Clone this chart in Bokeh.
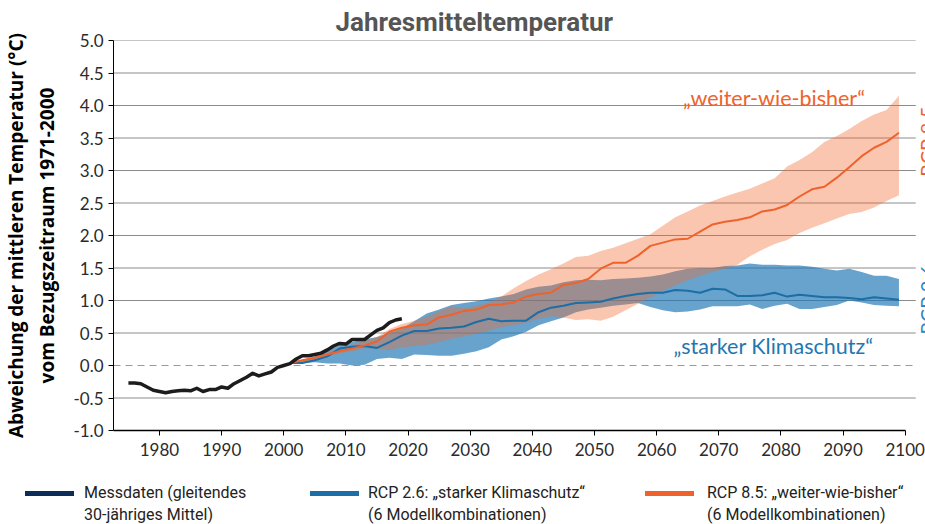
import math
from bokeh.plotting import figure
from bokeh.models import ColumnDataSource, Range1d, FixedTicker, PrintfTickFormatter, Label, Div
from bokeh.layouts import column
from bokeh.embed import file_html
from bokeh.resources import INLINE

TITLE = "Jahresmitteltemperatur"
Y_LABEL = "Abweichung der mittleren Temperatur (°C)\nvom Bezugszeitraum 1971-2000"
X_TICKS = [1980, 1990, 2000, 2010, 2020, 2030, 2040, 2050, 2060, 2070, 2080, 2090, 2100]
Y_TICKS = [-1.0, -0.5, 0.0, 0.5, 1.0, 1.5, 2.0, 2.5, 3.0, 3.5, 4.0, 4.5, 5.0]
GRID_TICKS = [-0.5, 0.5, 1.0, 1.5, 2.0, 2.5, 3.0, 3.5, 4.0, 4.5, 5.0]

# Messdaten (gleitendes 30-jähriges Mittel)
obs_years = list(range(1975, 2020))
obs_vals = [-0.27, -0.27, -0.28, -0.33, -0.38, -0.40, -0.42, -0.40, -0.39, -0.38,
            -0.39, -0.35, -0.40, -0.37, -0.37, -0.33, -0.35, -0.28, -0.23, -0.18,
            -0.12, -0.16, -0.13, -0.10, -0.03, 0.00, 0.03, 0.10, 0.15, 0.15,
            0.17, 0.19, 0.24, 0.30, 0.34, 0.33, 0.40, 0.40, 0.40, 0.47,
            0.54, 0.58, 0.66, 0.70, 0.72]

proj_years = list(range(2001, 2100, 2))

rcp85_mid = [0.04, 0.08, 0.12, 0.17, 0.22, 0.26, 0.31, 0.37, 0.52, 0.58,
             0.62, 0.63, 0.74, 0.78, 0.84, 0.86, 0.93, 0.94, 0.97, 1.06,
             1.10, 1.12, 1.24, 1.27, 1.33, 1.49, 1.58, 1.58, 1.69, 1.84,
             1.89, 1.94, 1.95, 2.06, 2.17, 2.21, 2.24, 2.28, 2.37, 2.40,
             2.47, 2.60, 2.71, 2.75, 2.89, 3.05, 3.22, 3.35, 3.44, 3.58]
rcp85_hi = [0.05, 0.09, 0.14, 0.20, 0.27, 0.32, 0.38, 0.44, 0.56, 0.64,
            0.69, 0.75, 0.84, 0.91, 0.88, 0.92, 0.97, 1.06, 1.19, 1.30,
            1.40, 1.48, 1.57, 1.67, 1.69, 1.76, 1.81, 1.88, 1.95, 2.02,
            2.15, 2.28, 2.37, 2.46, 2.53, 2.60, 2.66, 2.72, 2.80, 2.88,
            3.06, 3.16, 3.28, 3.44, 3.53, 3.64, 3.76, 3.86, 3.93, 4.15]
rcp85_lo = [0.02, 0.05, 0.09, 0.14, 0.19, 0.22, 0.27, 0.26, 0.24, 0.28,
            0.30, 0.32, 0.36, 0.41, 0.45, 0.49, 0.54, 0.59, 0.62, 0.66,
            0.72, 0.76, 0.74, 0.70, 0.71, 0.69, 0.75, 0.85, 0.95, 1.05,
            1.15, 1.23, 1.31, 1.38, 1.44, 1.49, 1.55, 1.68, 1.78, 1.87,
            1.93, 2.04, 2.12, 2.19, 2.26, 2.33, 2.36, 2.43, 2.53, 2.62]

rcp26_mid = [0.04, 0.04, 0.08, 0.14, 0.26, 0.29, 0.30, 0.27, 0.36, 0.46,
             0.53, 0.53, 0.57, 0.58, 0.60, 0.67, 0.72, 0.68, 0.69, 0.69,
             0.82, 0.89, 0.92, 0.96, 0.97, 0.98, 1.03, 1.07, 1.10, 1.12,
             1.12, 1.16, 1.15, 1.12, 1.18, 1.17, 1.07, 1.07, 1.08, 1.12,
             1.06, 1.09, 1.07, 1.05, 1.05, 1.04, 1.02, 1.05, 1.03, 1.01]
rcp26_hi = [0.04, 0.08, 0.14, 0.24, 0.31, 0.36, 0.40, 0.44, 0.50, 0.57,
            0.68, 0.80, 0.86, 0.93, 0.96, 0.99, 1.03, 1.06, 1.10, 1.17,
            1.21, 1.23, 1.28, 1.31, 1.32, 1.31, 1.33, 1.34, 1.35, 1.37,
            1.40, 1.45, 1.49, 1.50, 1.50, 1.53, 1.54, 1.57, 1.55, 1.55,
            1.54, 1.54, 1.52, 1.49, 1.46, 1.49, 1.44, 1.38, 1.38, 1.33]
rcp26_lo = [0.02, 0.04, 0.05, 0.03, 0.03, 0.00, 0.01, 0.10, 0.12, 0.10,
            0.17, 0.16, 0.15, 0.15, 0.18, 0.22, 0.28, 0.40, 0.45, 0.52,
            0.62, 0.68, 0.74, 0.82, 0.86, 0.89, 0.92, 0.94, 0.96, 0.90,
            0.85, 0.82, 0.83, 0.86, 0.91, 0.91, 0.91, 0.94, 0.87, 0.92,
            0.95, 0.87, 0.87, 0.90, 0.93, 1.00, 0.97, 0.93, 0.92, 0.91]

LEGEND_LINE1 = ["Messdaten (gleitendes", "RCP 2.6: „starker Klimaschutz“", "RCP 8.5: „weiter-wie-bisher“"]
LEGEND_LINE2 = ["30-jähriges Mittel)", "(6 Modellkombinationen)", "(6 Modellkombinationen)"]

C_OBS = "#1c1c1c"
C_OBS_LEG = "#0c2d57"
C_BLUE = "#1b6ea6"
C_ORANGE = "#f0622b"

X_START, X_END = 1972.6, 2103.27
X_GRID_END = 2101.7

proj = ColumnDataSource(dict(x=proj_years, m85=rcp85_mid, h85=rcp85_hi, l85=rcp85_lo,
                             m26=rcp26_mid, h26=rcp26_hi, l26=rcp26_lo))
obs = ColumnDataSource(dict(x=obs_years, y=obs_vals))

p = figure(width=925, height=478, output_backend="svg", toolbar_location=None,
           x_range=Range1d(X_START, X_END), y_range=Range1d(-1.0, 5.0),
           min_border_left=107, min_border_right=0, min_border_top=40, min_border_bottom=48)
p.outline_line_color = None
p.grid.visible = False

p.title.text = TITLE
p.title.align = "left"
p.title.offset = 222
p.title.standoff = 8
p.title.text_font = "Roboto"
p.title.text_font_style = "bold"
p.title.text_font_size = "26px"
p.title.text_color = "#555555"

p.xaxis.ticker = FixedTicker(ticks=X_TICKS)
p.yaxis.ticker = FixedTicker(ticks=Y_TICKS)
p.yaxis.formatter = PrintfTickFormatter(format="%.1f")
p.xaxis.bounds = (X_START, 2100)
for ax in (p.xaxis[0], p.yaxis[0]):
    ax.major_tick_out = 5
    ax.major_tick_in = 0
    ax.minor_tick_line_color = None
    ax.axis_line_color = "black"
    ax.major_tick_line_color = "black"
    ax.major_label_text_font = "Lato"
    ax.major_label_text_font_size = "17px"
    ax.major_label_text_color = "#2b2b2b"
p.xaxis.axis_line_width = 1.5
p.xaxis.major_label_standoff = 7
p.yaxis.major_label_standoff = 5
p.yaxis.axis_label = Y_LABEL
p.yaxis.axis_label_text_font = "Open Sans"
p.yaxis.axis_label_text_font_style = "bold"
p.yaxis.axis_label_text_font_size = "19px"
p.yaxis.axis_label_text_color = "black"
p.yaxis.axis_label_standoff = 10

# horizontal grid lines and dashed zero line, ending at the right end of the chart area
n = len(GRID_TICKS)
p.segment(x0=[X_START] * n, x1=[X_GRID_END] * n, y0=GRID_TICKS, y1=GRID_TICKS,
          line_color="#8c8c8c", line_width=1)
p.segment(x0=[X_START], x1=[X_GRID_END], y0=[0.0], y1=[0.0],
          line_color="#9a9a9a", line_width=1, line_dash="7 5")

p.varea(x="x", y1="l26", y2="h26", source=proj, fill_color="#1f78b4", fill_alpha=0.68)
p.varea(x="x", y1="l85", y2="h85", source=proj, fill_color="#f26a30", fill_alpha=0.38)
p.line(x="x", y="m26", source=proj, line_color=C_BLUE, line_width=2)
p.line(x="x", y="m85", source=proj, line_color=C_ORANGE, line_width=2)
p.line(x="x", y="y", source=obs, line_color=C_OBS, line_width=3.5, line_join="round")

p.add_layout(Label(x=2078.9, y=4.12, text="„weiter-wie-bisher“", text_align="center", text_baseline="middle",
                   text_font="Lato", text_font_size="21.5px", text_color=C_ORANGE))
p.add_layout(Label(x=2078.8, y=0.30, text="„starker Klimaschutz“", text_align="center", text_baseline="middle",
                   text_font="Lato", text_font_size="21.5px", text_color="#1f77b0"))
p.add_layout(Label(x=X_GRID_END - 0.2, y=3.45, text="RCP 8.5", angle=math.pi / 2, text_align="center",
                   text_baseline="top", text_font="Lato", text_font_size="20px", text_color=C_ORANGE))
p.add_layout(Label(x=X_GRID_END - 0.2, y=1.02, text="RCP 2.6", angle=math.pi / 2, text_align="center",
                   text_baseline="top", text_font="Lato", text_font_size="20px", text_color="#2f86bf"))

# legend below the chart
sw_left = [25, 310, 645]
txt_left = [84, 368, 707]
sw_colors = [C_OBS_LEG, C_BLUE, C_ORANGE]
parts = ['<div style="position:relative;width:925px;height:46px;font-family:Roboto;'
         'font-size:16px;color:#222222;">']
for sl, tl, col, l1, l2 in zip(sw_left, txt_left, sw_colors, LEGEND_LINE1, LEGEND_LINE2):
    parts.append(f'<div style="position:absolute;left:{sl}px;top:13px;width:49px;height:5px;'
                 f'background:{col};"></div>')
    parts.append(f'<div style="position:absolute;left:{tl}px;top:4px;line-height:22px;'
                 f'white-space:nowrap;">{l1}<br>{l2}</div>')
parts.append('</div>')
legend_div = Div(text="".join(parts), width=925, height=46, margin=0)

layout = column(p, legend_div)
open("out.html", "w").write(file_html(layout, INLINE))
